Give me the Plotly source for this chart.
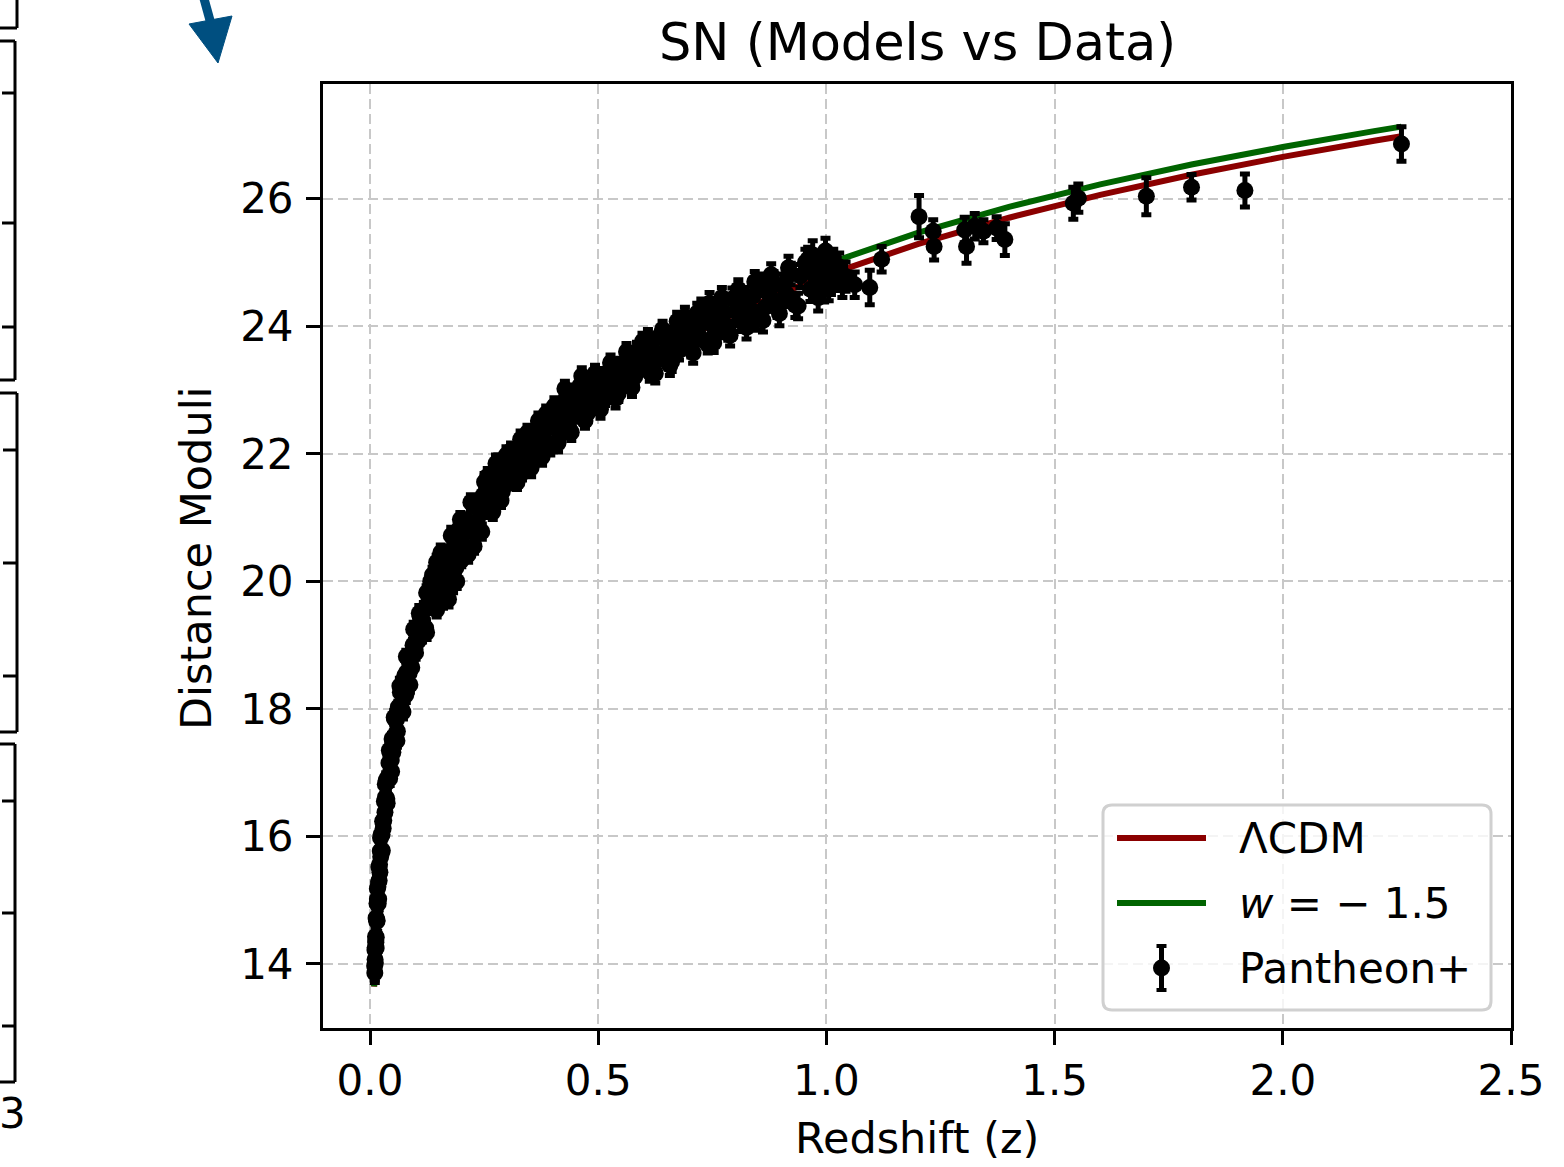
import plotly.graph_objects as go

# ---------------- data ----------------
sn_z_a = [0.0102, 0.0105, 0.0108, 0.0111, 0.0114, 0.0117, 0.0121, 0.0125, 0.0129, 0.0133,
          0.0137, 0.0142, 0.0147, 0.0152, 0.0157, 0.0162, 0.0168, 0.0174, 0.0180, 0.0187,
          0.0194, 0.0201, 0.0209, 0.0217, 0.0225, 0.0234, 0.0243, 0.0253, 0.0264, 0.0276, 0.0289]
sn_mu_a = [13.97, 13.86, 14.22, 14.07, 14.26, 14.02, 14.43, 14.36, 14.34, 14.72,
           14.42, 14.70, 14.67, 14.95, 14.68, 15.02, 14.99, 15.21, 14.95, 15.29,
           15.52, 15.31, 15.56, 15.44, 15.77, 15.68, 16.03, 15.75, 16.03, 16.24, 16.13]
sn_err_a = [0.22, 0.15, 0.20, 0.24, 0.21, 0.19, 0.23, 0.18, 0.20, 0.17,
            0.19, 0.16, 0.18, 0.15, 0.17, 0.16, 0.14, 0.15, 0.16, 0.13,
            0.14, 0.15, 0.12, 0.14, 0.13, 0.12, 0.14, 0.11, 0.13, 0.12, 0.11]

sn_z_b = [0.0302, 0.0315, 0.0328, 0.0341, 0.0355, 0.0369, 0.0384, 0.0399, 0.0415, 0.0431,
          0.0448, 0.0465, 0.0483, 0.0501, 0.0520, 0.0539, 0.0559, 0.0579, 0.0600, 0.0621,
          0.0643, 0.0665, 0.0688, 0.0711, 0.0735, 0.0759, 0.0784, 0.0809, 0.0835, 0.0861,
          0.0888, 0.0915, 0.0943, 0.0971, 0.0999]
sn_mu_b = [16.25, 16.55, 16.38, 16.62, 16.88, 16.59, 16.92, 16.91, 17.15, 16.91,
           17.29, 17.20, 17.53, 17.32, 17.55, 17.84, 17.60, 17.83, 17.65, 18.03,
           17.96, 18.26, 18.02, 18.32, 18.30, 18.52, 18.22, 18.58, 18.79, 18.57,
           18.76, 18.65, 19.00, 19.02, 18.88]
sn_err_b = [0.12, 0.11, 0.13, 0.10, 0.12, 0.11, 0.10, 0.12, 0.09, 0.11,
            0.10, 0.12, 0.09, 0.11, 0.10, 0.12, 0.09, 0.10, 0.11, 0.09,
            0.10, 0.12, 0.09, 0.10, 0.11, 0.09, 0.12, 0.10, 0.11, 0.09,
            0.10, 0.12, 0.09, 0.11, 0.10]

sn_z_c = [0.102, 0.106, 0.110, 0.114, 0.115, 0.118, 0.122, 0.126, 0.130, 0.135,
          0.140, 0.143, 0.145, 0.150, 0.155, 0.160, 0.165, 0.170, 0.172, 0.175,
          0.180, 0.185, 0.190, 0.195, 0.200, 0.203, 0.206, 0.212, 0.218, 0.224,
          0.230, 0.233, 0.236, 0.242, 0.248, 0.254, 0.260, 0.263, 0.266, 0.272,
          0.278, 0.284, 0.290, 0.293, 0.296]
sn_mu_c = [19.18, 19.07, 19.44, 19.17, 19.39, 19.56, 19.27, 19.64, 19.59, 19.90,
           19.68, 20.11, 19.71, 19.99, 20.18, 20.03, 20.40, 20.01, 20.36, 20.44,
           20.26, 20.66, 20.50, 20.82, 20.49, 20.77, 20.51, 20.95, 20.91, 20.82,
           21.20, 20.77, 21.16, 21.06, 21.35, 21.11, 21.54, 21.14, 21.38, 21.54,
           21.38, 21.74, 21.41, 21.66, 21.80]
sn_err_c = [0.10, 0.11, 0.09, 0.12, 0.10, 0.11, 0.13, 0.10, 0.09, 0.12,
            0.11, 0.10, 0.13, 0.09, 0.11, 0.12, 0.10, 0.13, 0.09, 0.11,
            0.12, 0.10, 0.11, 0.13, 0.12, 0.10, 0.12, 0.11, 0.09, 0.12,
            0.10, 0.13, 0.11, 0.10, 0.12, 0.11, 0.13, 0.12, 0.10, 0.11,
            0.12, 0.13, 0.11, 0.10, 0.12]

sn_z_d = [0.305, 0.312, 0.319, 0.326, 0.333, 0.338, 0.341, 0.349, 0.357, 0.362,
          0.365, 0.373, 0.381, 0.390, 0.395, 0.399, 0.408, 0.417, 0.421, 0.426,
          0.436, 0.446, 0.451, 0.456, 0.466, 0.477, 0.483, 0.488, 0.499, 0.510,
          0.515, 0.521, 0.532, 0.544, 0.549, 0.556, 0.568, 0.580, 0.585, 0.592,
          0.427, 0.464]
sn_mu_d = [21.56, 21.94, 21.76, 21.98, 21.70, 22.20, 22.01, 21.86, 22.24, 22.04,
           22.36, 22.08, 22.33, 22.49, 22.11, 22.47, 22.40, 22.71, 22.36, 22.65,
           22.41, 22.80, 22.96, 22.64, 22.83, 22.64, 23.03, 22.79, 23.04, 23.21,
           22.88, 23.09, 23.25, 22.95, 23.38, 23.18, 23.39, 23.21, 23.61, 23.38,
           23.02, 23.22]
sn_err_d = [0.11, 0.12, 0.10, 0.13, 0.11, 0.12, 0.10, 0.13, 0.11, 0.12,
            0.14, 0.11, 0.12, 0.10, 0.13, 0.11, 0.12, 0.14, 0.11, 0.12,
            0.13, 0.11, 0.12, 0.14, 0.11, 0.13, 0.12, 0.14, 0.11, 0.13,
            0.12, 0.14, 0.11, 0.13, 0.12, 0.14, 0.13, 0.12, 0.14, 0.13,
            0.12, 0.13]

sn_z_e = [0.605, 0.613, 0.621, 0.629, 0.637, 0.645, 0.653, 0.661, 0.669, 0.677,
          0.686, 0.695, 0.704, 0.713, 0.717, 0.722, 0.731, 0.740, 0.749, 0.758,
          0.767, 0.776, 0.785, 0.794, 0.803, 0.812, 0.821, 0.830, 0.839, 0.848,
          0.857, 0.866, 0.875, 0.884, 0.893, 0.902, 0.912, 0.922, 0.932, 0.943,
          0.954, 0.965, 0.976, 0.987, 0.995, 0.970]
sn_mu_e = [23.62, 23.28, 23.61, 23.46, 23.87, 23.58, 23.79, 23.45, 23.93, 23.62,
           23.85, 24.06, 23.68, 24.01, 24.21, 23.84, 24.13, 23.72, 24.07, 24.27,
           23.96, 24.21, 23.93, 24.43, 24.23, 24.08, 24.46, 24.23, 24.47, 24.11,
           24.67, 24.30, 24.50, 24.67, 24.31, 24.64, 24.51, 24.82, 24.33, 24.79,
           25.00, 24.58, 24.82, 24.95, 24.59, 25.12]
sn_err_e = [0.13, 0.14, 0.12, 0.15, 0.13, 0.14, 0.12, 0.16, 0.13, 0.15,
            0.14, 0.13, 0.16, 0.14, 0.15, 0.13, 0.16, 0.14, 0.15, 0.17,
            0.14, 0.16, 0.15, 0.17, 0.14, 0.16, 0.15, 0.18, 0.16, 0.17,
            0.15, 0.18, 0.16, 0.19, 0.17, 0.18, 0.20, 0.17, 0.19, 0.18,
            0.21, 0.19, 0.20, 0.22, 0.21, 0.22]

# additional supernovae filling the outer parts of the dense band
sn_z_g = [0.0135, 0.0160, 0.0190, 0.0230, 0.0270,
          0.0335, 0.0376, 0.0423, 0.0474, 0.0530, 0.0590, 0.0654, 0.0722, 0.0796, 0.0875, 0.0957,
          0.108, 0.124, 0.133, 0.148, 0.158, 0.168, 0.178, 0.188, 0.198, 0.209,
          0.221, 0.239, 0.251, 0.269, 0.281, 0.287, 0.299,
          0.309, 0.322, 0.330, 0.345, 0.353, 0.369, 0.377, 0.386, 0.404, 0.412,
          0.431, 0.441, 0.461, 0.471, 0.493, 0.505, 0.527, 0.538, 0.562, 0.574, 0.597,
          0.609, 0.625, 0.641, 0.657, 0.673, 0.690, 0.708, 0.726, 0.744, 0.753,
          0.771, 0.789, 0.807, 0.825, 0.843, 0.861, 0.879, 0.897, 0.917, 0.938,
          0.960, 0.982, 0.998]
sn_mu_g = [14.25, 15.18, 15.02, 15.98, 15.78,
           16.82, 16.52, 17.35, 17.02, 17.87, 17.50, 18.36, 17.95, 18.82, 18.38, 19.25,
           19.50, 19.20, 20.00, 19.62, 20.43, 19.93, 20.72, 20.21, 20.97, 20.45,
           21.24, 20.79, 21.56, 21.09, 21.84, 21.27, 21.98,
           22.05, 21.55, 22.23, 22.33, 21.78, 22.52, 21.95, 22.63, 22.75, 22.17,
           22.91, 22.34, 23.08, 22.52, 23.26, 22.70, 23.43, 22.87, 23.60, 23.04, 23.76,
           23.81, 23.26, 23.95, 23.39, 24.08, 24.15, 23.58, 24.29, 24.36, 23.74,
           24.45, 23.86, 24.58, 23.98, 24.70, 24.09, 24.81, 24.20, 24.92, 24.32,
           25.05, 24.45, 25.18]
sn_err_g = [0.20, 0.18, 0.17, 0.15, 0.14,
            0.12, 0.11, 0.10, 0.12, 0.11, 0.10, 0.12, 0.11, 0.10, 0.12, 0.11,
            0.12, 0.11, 0.13, 0.10, 0.12, 0.11, 0.13, 0.12, 0.11, 0.13,
            0.12, 0.11, 0.13, 0.12, 0.14, 0.11, 0.13,
            0.12, 0.11, 0.13, 0.12, 0.14, 0.12, 0.13, 0.12, 0.13, 0.14,
            0.12, 0.13, 0.14, 0.12, 0.13, 0.14, 0.12, 0.15, 0.13, 0.14, 0.13,
            0.14, 0.15, 0.13, 0.16, 0.14, 0.15, 0.16, 0.14, 0.17, 0.15,
            0.16, 0.17, 0.15, 0.18, 0.16, 0.18, 0.17, 0.19, 0.18, 0.20,
            0.19, 0.21, 0.20]

# strongly scattered supernovae around z ~ 0.12-0.28
sn_z_h = [0.124, 0.137, 0.146, 0.146, 0.155, 0.160, 0.172, 0.182, 0.190, 0.200,
          0.215, 0.228, 0.245, 0.258, 0.276]
sn_mu_h = [19.82, 20.10, 19.55, 20.30, 20.45, 19.70, 19.72, 19.95, 20.00, 20.33,
           20.42, 20.55, 20.78, 21.65, 21.85]
sn_err_h = [0.11, 0.12, 0.11, 0.11, 0.12, 0.12, 0.12, 0.13, 0.11, 0.10,
            0.12, 0.11, 0.12, 0.12, 0.13]

sn_z_f = [1.002, 1.005, 1.010, 1.015, 1.021, 1.028, 1.035, 1.042, 1.062, 1.095,
          1.121, 1.203, 1.234, 1.236, 1.303, 1.307, 1.325, 1.344, 1.373, 1.391,
          1.541, 1.552, 1.701, 1.800, 1.917, 2.260]
sn_mu_f = [24.85, 24.62, 24.72, 25.00, 24.80, 24.93, 24.70, 24.78, 24.65, 24.61,
           25.05, 25.72, 25.49, 25.25, 25.51, 25.25, 25.57, 25.49, 25.54, 25.36,
           25.93, 26.01, 26.04, 26.18, 26.13, 26.86]
sn_err_f = [0.20, 0.22, 0.22, 0.21, 0.24, 0.22, 0.25, 0.23, 0.20, 0.27,
            0.20, 0.33, 0.18, 0.21, 0.20, 0.26, 0.20, 0.18, 0.18, 0.25,
            0.25, 0.22, 0.29, 0.20, 0.26, 0.27]

model_z = [0.009, 0.010, 0.012, 0.015, 0.020, 0.025, 0.030, 0.040, 0.050, 0.060,
           0.070, 0.080, 0.090, 0.100, 0.120, 0.150, 0.175, 0.200, 0.250, 0.300,
           0.350, 0.400, 0.450, 0.500, 0.600, 0.700, 0.800, 0.900, 1.000, 1.200,
           1.400, 1.600, 1.800, 2.000, 2.200, 2.260]
lcdm_mu = [13.644, 13.875, 14.274, 14.764, 15.397, 15.889, 16.294, 16.935, 17.435, 17.845,
           18.198, 18.500, 18.771, 19.014, 19.439, 19.965, 20.333, 20.656, 21.201, 21.655,
           22.041, 22.384, 22.687, 22.961, 23.438, 23.846, 24.202, 24.517, 24.800, 25.289,
           25.703, 26.061, 26.376, 26.657, 26.910, 26.981]
wcdm_mu = [13.649, 13.880, 14.281, 14.772, 15.408, 15.903, 16.310, 16.957, 17.463, 17.880,
           18.236, 18.547, 18.823, 19.065, 19.499, 20.037, 20.415, 20.746, 21.307, 21.774,
           22.174, 22.525, 22.836, 23.116, 23.604, 24.018, 24.377, 24.693, 24.976, 25.464,
           25.874, 26.227, 26.537, 26.812, 27.061, 27.131]

x_ticks = [0.0, 0.5, 1.0, 1.5, 2.0, 2.5]
x_ticklabels = ["0.0", "0.5", "1.0", "1.5", "2.0", "2.5"]
y_ticks = [14, 16, 18, 20, 22, 24, 26]
y_ticklabels = ["14", "16", "18", "20", "22", "24", "26"]

series_names = ["ΛCDM", "<i>w</i> = − 1.5", "Pantheon+"]

# ---------------- layout geometry (pixels) ----------------
W, H = 1564, 1167
L, R, T, B = 323, 1511, 84, 1028
FONT = "DejaVu Sans"


def px(x):
    return (x - L) / (R - L)


def py(y):
    return (B - y) / (B - T)


z_all = sn_z_a + sn_z_b + sn_z_c + sn_z_d + sn_z_e + sn_z_g + sn_z_h + sn_z_f
mu_all = sn_mu_a + sn_mu_b + sn_mu_c + sn_mu_d + sn_mu_e + sn_mu_g + sn_mu_h + sn_mu_f
err_all = sn_err_a + sn_err_b + sn_err_c + sn_err_d + sn_err_e + sn_err_g + sn_err_h + sn_err_f

fig = go.Figure()
fig.add_trace(go.Scatter(x=model_z, y=lcdm_mu, mode="lines", name="ΛCDM",
                         line=dict(color="#8b0000", width=6), showlegend=False))
fig.add_trace(go.Scatter(x=model_z, y=wcdm_mu, mode="lines", name="w = -1.5",
                         line=dict(color="#006400", width=6), showlegend=False))
fig.add_trace(go.Scatter(x=z_all, y=mu_all, mode="markers", name="Pantheon+",
                         marker=dict(color="black", size=17, line=dict(width=0)),
                         error_y=dict(type="data", array=err_all, visible=True,
                                      color="black", thickness=5, width=5),
                         showlegend=False))

axis_common = dict(showline=True, mirror=True, linecolor="black", linewidth=3,
                   ticks="outside", ticklen=14, tickwidth=3, tickcolor="black",
                   showgrid=True, gridcolor="#c8c8c8", gridwidth=2, griddash="10px,5px",
                   zeroline=False, tickfont=dict(family=FONT, size=42, color="black"))

fig.update_layout(
    width=W, height=H, autosize=False,
    margin=dict(l=L, r=W - R, t=T, b=H - B, pad=0),
    paper_bgcolor="white", plot_bgcolor="white",
    font=dict(family=FONT, size=42, color="black"),
    xaxis=dict(range=[-0.103, 2.5], tickvals=x_ticks, ticktext=x_ticklabels, **axis_common),
    yaxis=dict(range=[12.996, 27.80], tickvals=y_ticks, ticktext=y_ticklabels,
               ticklabelstandoff=4, **axis_common),
    showlegend=False,
)

shapes = []
annotations = []

# title and axis titles
annotations.append(dict(text="SN (Models vs Data)", x=px(917), y=py(42), xref="paper", yref="paper",
                        xanchor="center", yanchor="middle", showarrow=False,
                        font=dict(family=FONT, size=51, color="black")))
annotations.append(dict(text="Redshift (z)", x=px(917), y=py(1138), xref="paper", yref="paper",
                        xanchor="center", yanchor="middle", showarrow=False,
                        font=dict(family=FONT, size=43, color="black")))
annotations.append(dict(text="Distance Moduli", x=px(196), y=py(558), xref="paper", yref="paper",
                        xanchor="center", yanchor="middle", showarrow=False, textangle=-90,
                        font=dict(family=FONT, size=43, color="black")))

# custom legend box (rounded)
lx0, lx1, ly0, ly1, rr = 1103, 1491, 805, 1010, 9
path = (f"M {px(lx0 + rr)},{py(ly0)} L {px(lx1 - rr)},{py(ly0)} "
        f"Q {px(lx1)},{py(ly0)} {px(lx1)},{py(ly0 + rr)} L {px(lx1)},{py(ly1 - rr)} "
        f"Q {px(lx1)},{py(ly1)} {px(lx1 - rr)},{py(ly1)} L {px(lx0 + rr)},{py(ly1)} "
        f"Q {px(lx0)},{py(ly1)} {px(lx0)},{py(ly1 - rr)} L {px(lx0)},{py(ly0 + rr)} "
        f"Q {px(lx0)},{py(ly0)} {px(lx0 + rr)},{py(ly0)} Z")
shapes.append(dict(type="path", path=path, xref="paper", yref="paper",
                   fillcolor="rgba(255,255,255,0.8)", line=dict(color="#d0d0d0", width=3)))
shapes.append(dict(type="line", xref="paper", yref="paper", x0=px(1117), x1=px(1206),
                   y0=py(838), y1=py(838), line=dict(color="#8b0000", width=6)))
shapes.append(dict(type="line", xref="paper", yref="paper", x0=px(1117), x1=px(1206),
                   y0=py(903), y1=py(903), line=dict(color="#006400", width=6)))
gx = 1161.5
shapes.append(dict(type="line", xref="paper", yref="paper", x0=px(gx), x1=px(gx),
                   y0=py(945), y1=py(991), line=dict(color="black", width=5)))
for yy in (946, 990):
    shapes.append(dict(type="line", xref="paper", yref="paper", x0=px(gx - 5), x1=px(gx + 5),
                       y0=py(yy), y1=py(yy), line=dict(color="black", width=4)))
shapes.append(dict(type="circle", xref="paper", yref="paper", x0=px(gx - 8.5), x1=px(gx + 8.5),
                   y0=py(968 + 8.5), y1=py(968 - 8.5), fillcolor="black", line=dict(width=0)))
for name, yy in zip(series_names, (838, 903, 968)):
    annotations.append(dict(text=name, x=px(1237), y=py(yy), xref="paper", yref="paper",
                            xanchor="left", yanchor="middle", showarrow=False,
                            font=dict(family=FONT, size=42, color="black")))

# fragments of neighbouring panels visible at the left edge of the picture
frag = [((0, 28), (17, 28)), ((17, -5), (17, 28)),
        ((0, 41), (15, 41)), ((15, 41), (15, 380)), ((0, 380), (15, 380)),
        ((2, 93), (15, 93)), ((2, 223), (15, 223)), ((2, 327), (15, 327)),
        ((0, 393), (17, 393)), ((17, 393), (17, 732)), ((0, 732), (17, 732)),
        ((3, 450), (17, 450)), ((3, 563), (17, 563)), ((3, 676), (17, 676)),
        ((0, 744), (15, 744)), ((15, 744), (15, 1082)), ((0, 1082), (15, 1082)),
        ((2, 801), (15, 801)), ((2, 913), (15, 913)), ((2, 1026), (15, 1026))]
for (a, b) in frag:
    shapes.append(dict(type="line", xref="paper", yref="paper", x0=px(a[0]), y0=py(a[1]),
                       x1=px(b[0]), y1=py(b[1]), line=dict(color="black", width=3)))
annotations.append(dict(text="3", x=px(12), y=py(1113), xref="paper", yref="paper",
                        xanchor="center", yanchor="middle", showarrow=False,
                        font=dict(family=FONT, size=42, color="black")))
# blue arrow fragment at the top
shapes.append(dict(type="line", xref="paper", yref="paper", x0=px(203), y0=py(-5),
                   x1=px(211), y1=py(24), line=dict(color="#004f80", width=9)))
shapes.append(dict(type="path", xref="paper", yref="paper",
                   path=f"M {px(189)},{py(24)} L {px(232)},{py(16)} L {px(218)},{py(63)} Z",
                   fillcolor="#004f80", line=dict(color="#004f80", width=1)))

fig.update_layout(shapes=shapes, annotations=annotations)
fig.write_html("out.html")
